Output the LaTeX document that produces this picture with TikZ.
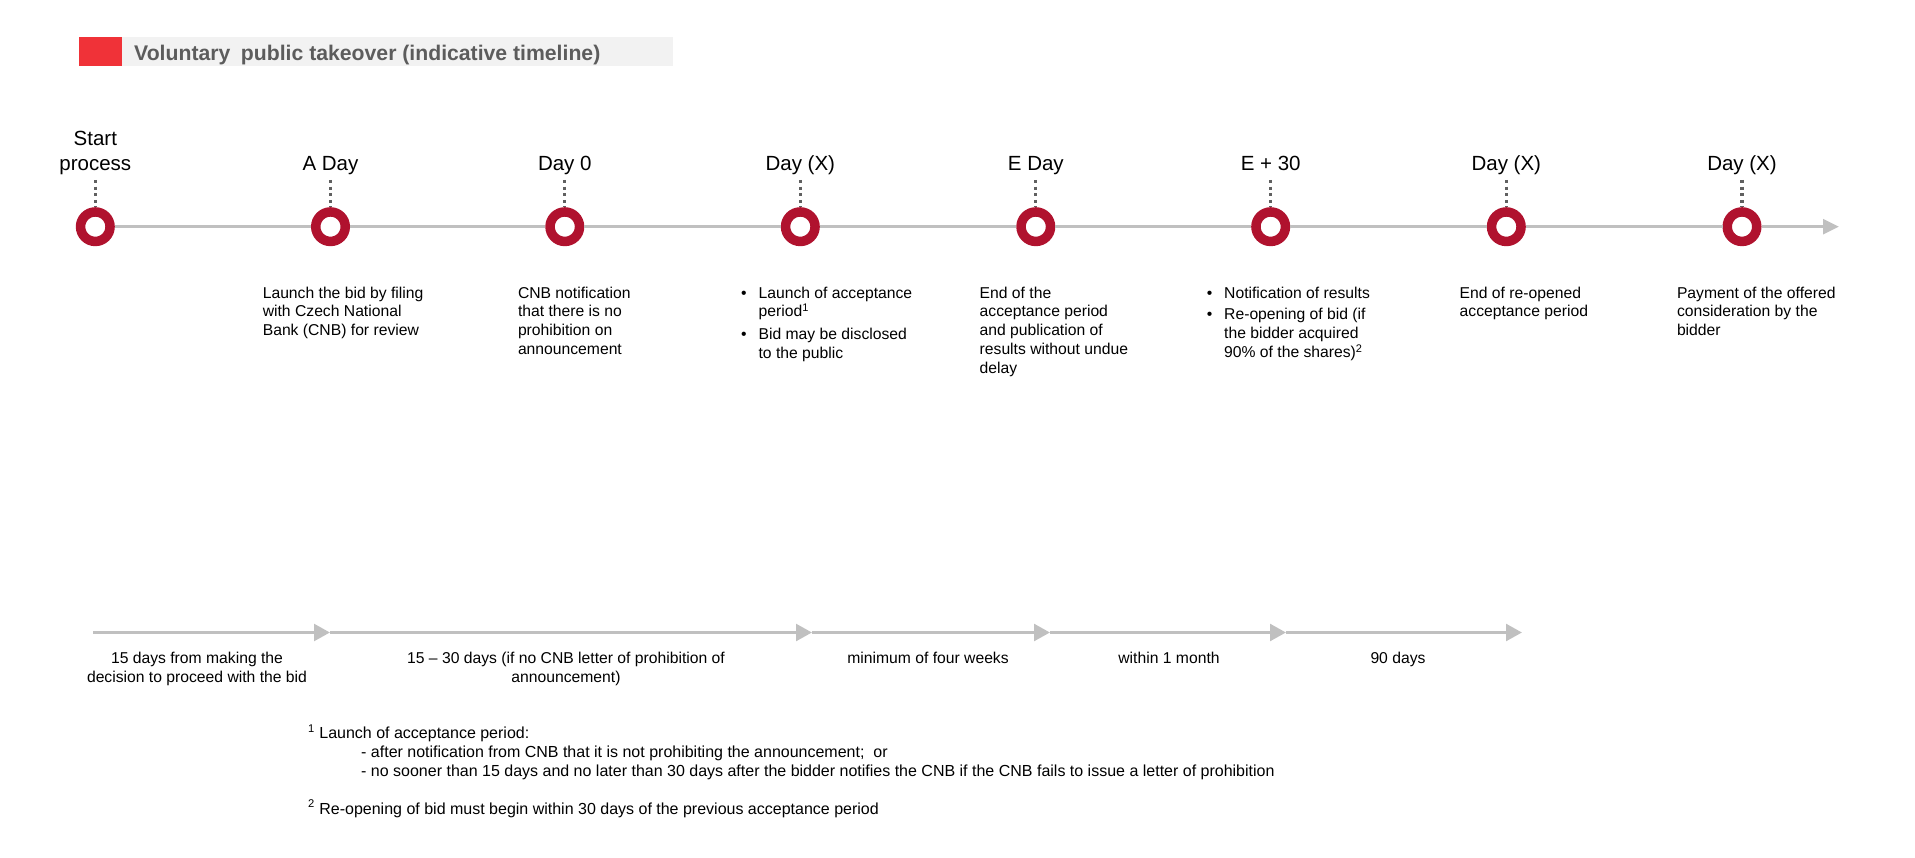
\documentclass[tikz,border=0pt]{standalone}
\usepackage{fontspec}
\setmainfont{Liberation Sans}
\usetikzlibrary{arrows.meta}

\newlength{\du}
\setlength{\du}{1pt}

\definecolor{ringred}{RGB}{176,18,46}
\definecolor{axisgray}{RGB}{192,192,192}
\definecolor{dotgray}{RGB}{96,96,96}
\definecolor{titlered}{RGB}{240,50,56}
\definecolor{titlegray}{RGB}{242,242,242}
\definecolor{titletext}{RGB}{92,92,92}

\newcommand{\bpoint}[1]{\makebox[17.4\du][l]{\textbullet}\begin{tabular}[t]{@{}l@{}}#1\end{tabular}}

\tikzset{
  milestone/.style={circle, draw=ringred, line width=9.5\du, fill=white,
    minimum size=29.5\du, inner sep=0pt},
  tick/.style={draw=dotgray, line width=3.3\du, dash pattern=on 3.3\du off 3.3\du},
  timeaxis/.style={draw=axisgray, line width=3.3\du},
  span/.style={draw=axisgray, line width=3.3\du,
    -{Triangle[length=16pt,width=16.7pt]}},
  daylabel/.style={anchor=base, inner sep=0pt, align=center,
    font=\fontsize{20.5}{24.7}\selectfont},
  desc/.style={anchor=north west, inner sep=0pt, align=left,
    font=\fontsize{15.7}{18.7}\selectfont},
  spanlabel/.style={anchor=base, inner sep=0pt, align=center,
    font=\fontsize{15.7}{19}\selectfont},
  note/.style={anchor=base west, inner sep=0pt, align=left,
    font=\fontsize{16}{19}\selectfont}
}

\begin{document}
\begin{tikzpicture}
\pgftransformyscale{-1.000000}
\useasboundingbox (0\du,0\du) rectangle (1915\du,858\du);

% title bar
\fill[titlegray] (122\du,37\du) rectangle (673\du,66\du);
\fill[titlered] (79\du,37\du) rectangle (122\du,66\du);
\node[anchor=base west, inner sep=0pt, text=titletext, font=\bfseries\fontsize{21.2}{24}\selectfont]
  (title) at (134\du,60.5\du){Voluntary\hspace{0.5em}public takeover (indicative timeline)};

% milestones on the time axis
\foreach \i/\xpos in {0/95.3,1/330.5,2/564.8,3/800.3,4/1035.8,5/1270.7,6/1506.3,7/1742}{
  \node[milestone] (m\i) at (\xpos\du,226.7\du){};
  \coordinate (t\i) at (\xpos\du,180\du);
  \draw[tick] (t\i) -- (m\i.north);
}
\foreach \i/\j in {0/1,1/2,2/3,3/4,4/5,5/6,6/7}
  \draw[timeaxis] (m\i.east) -- (m\j.west);
\coordinate (tip) at (1839\du,226.7\du);
\draw[timeaxis, -{Triangle[length=16pt,width=14.7pt]}] (m7.east) -- (tip);

% day labels
\node[daylabel] (l0) at (95.3\du,170.7\du){Start\\process};
\node[daylabel] (l1) at (330.5\du,170.7\du){A Day};
\node[daylabel] (l2) at (564.8\du,170.7\du){Day 0};
\node[daylabel] (l3) at (800.3\du,170.7\du){Day (X)};
\node[daylabel] (l4) at (1035.8\du,170.7\du){E Day};
\node[daylabel] (l5) at (1270.7\du,170.7\du){E + 30};
\node[daylabel] (l6) at (1506.3\du,170.7\du){Day (X)};
\node[daylabel] (l7) at (1742\du,170.7\du){Day (X)};

% what happens on each day
\node[desc] (d1) at (262.6\du,285\du){\strut Launch the bid by filing\\with Czech National\\Bank (CNB) for review};
\node[desc] (d2) at (517.8\du,285\du){\strut CNB notification\\that there is no\\prohibition on\\announcement};
\node[desc] (d3) at (741\du,285\du){\bpoint{Launch of acceptance\\period\textsuperscript{1}}\\[3\du]\bpoint{Bid may be disclosed\\to the public}};
\node[desc] (d4) at (979.5\du,285\du){\strut End of the\\acceptance period\\and publication of\\results without undue\\delay};
\node[desc] (d5) at (1206.6\du,285\du){\bpoint{Notification of results}\\[3\du]\bpoint{Re-opening of bid (if\\the bidder acquired\\90\% of the shares)\textsuperscript{2}}};
\node[desc] (d6) at (1459.5\du,285\du){\strut End of re-opened\\acceptance period};
\node[desc] (d7) at (1676.8\du,285\du){\strut Payment of the offered\\consideration by the\\bidder};

% periods between the days
\coordinate (s0) at (93\du,632.5\du);
\coordinate (s1) at (330\du,632.5\du);
\coordinate (s2) at (812\du,632.5\du);
\coordinate (s3) at (1050\du,632.5\du);
\coordinate (s4) at (1286\du,632.5\du);
\coordinate (s5) at (1522\du,632.5\du);
\foreach \i/\j in {0/1,1/2,2/3,3/4,4/5}
  \draw[span] (s\i) -- (s\j);

\node[spanlabel] (p1) at (197\du,682.5\du){15 days from making the\\decision to proceed with the bid};
\node[spanlabel] (p2) at (566\du,682.5\du){15 -- 30 days (if no CNB letter of prohibition of\\announcement)};
\node[spanlabel] (p3) at (928\du,663.5\du){minimum of four weeks};
\node[spanlabel] (p4) at (1169\du,663.5\du){within 1 month};
\node[spanlabel] (p5) at (1398\du,663.5\du){90 days};

% footnotes
\node[note] (fn1) at (308\du,776.5\du){\textsuperscript{1} Launch of acceptance period:\\
  \hspace*{53\du}- after notification from CNB that it is not prohibiting the announcement;\ \ or\\
  \hspace*{53\du}- no sooner than 15 days and no later than 30 days after the bidder notifies the CNB if the CNB fails to issue a letter of prohibition};
\node[note] (fn2) at (308\du,814\du){\textsuperscript{2} Re-opening of bid must begin within 30 days of the previous acceptance period};
\end{tikzpicture}
\end{document}
